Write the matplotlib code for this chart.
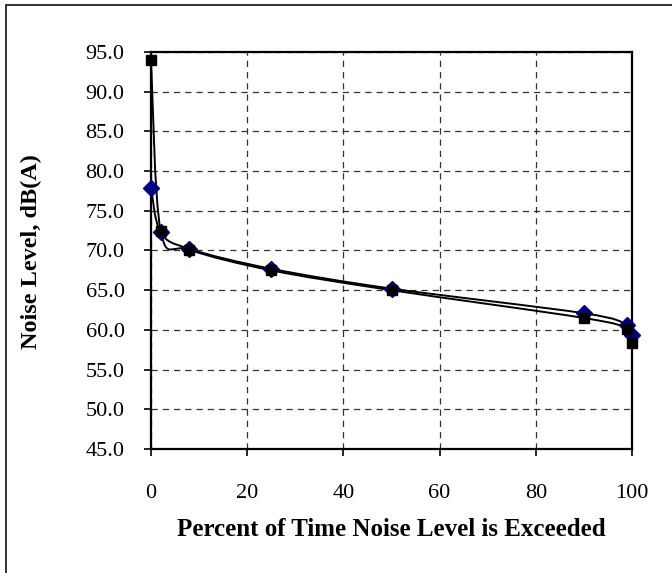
import matplotlib
matplotlib.use("Agg")
import matplotlib.pyplot as plt
import numpy as np
from matplotlib.path import Path
from matplotlib.patches import PathPatch, Rectangle

# Percent of time the level is exceeded
pct = [0, 2, 8, 25, 50, 90, 99, 100]
# Two measured series, dB(A)
level_sq = [94.0, 72.5, 70.1, 67.5, 65.0, 61.5, 60.1, 58.3]
level_dm = [77.9, 72.3, 70.2, 67.7, 65.2, 62.1, 60.6, 59.4]

x_ticks = [0, 20, 40, 60, 80, 100]
y_ticks = np.arange(45, 96, 5)


def smooth_path(xs, ys):
    # Excel style smoothed line: cubic bezier through every point
    pts = np.column_stack([xs, ys]).astype(float)
    n = len(pts)
    verts = [pts[0]]
    codes = [Path.MOVETO]
    for i in range(n - 1):
        p0 = pts[i - 1] if i > 0 else pts[i]
        p1 = pts[i]
        p2 = pts[i + 1]
        p3 = pts[i + 2] if i + 2 < n else pts[i + 1]
        c1 = p1 + (p2 - p0) / 6.0
        c2 = p2 - (p3 - p1) / 6.0
        verts += [c1, c2, p2]
        codes += [Path.CURVE4] * 3
    return Path(verts, codes)


plt.rcParams["font.family"] = ["Liberation Serif", "DejaVu Serif"]

fig = plt.figure(figsize=(6.72, 5.73), dpi=100)
ax = fig.add_axes([151 / 672, 1 - 449 / 573, (632 - 151) / 672, (449 - 52) / 573])

# outer chart border (cut off at right and bottom like the source)
fig.patches.append(Rectangle((6 / 672, -0.05), 1.2, 1 - 5 / 573 + 0.05,
                             transform=fig.transFigure, fill=False,
                             edgecolor="#222222", linewidth=1.3))

for xs, ys in [(pct, level_sq), (pct, level_dm)]:
    ax.add_patch(PathPatch(smooth_path(xs, ys), facecolor="none",
                           edgecolor="black", linewidth=1.4, zorder=3,
                           clip_on=False))

ax.plot(pct, level_dm, linestyle="none", marker="D", markersize=8,
        color="#000080", zorder=4, clip_on=False)
ax.plot(pct, level_sq, linestyle="none", marker="s", markersize=6.5,
        color="black", zorder=5, clip_on=False)

ax.set_xlim(0, 100)
ax.set_ylim(45, 95)
ax.set_xticks(x_ticks)
ax.set_yticks(y_ticks)
ax.set_yticklabels([f"{v:.1f}" for v in y_ticks])
ax.tick_params(axis="both", direction="out", length=5, width=1.2,
               labelsize=16, colors="black")
ax.tick_params(axis="x", pad=20)
ax.tick_params(axis="y", pad=14)

ax.grid(True, color="#333333", linestyle=(0, (5, 4)), linewidth=0.9)
ax.set_axisbelow(True)
for s in ax.spines.values():
    s.set_linewidth(1.6)
    s.set_color("black")

fig.text(391 / 672, 1 - 529 / 573, "Percent of Time Noise Level is Exceeded",
         ha="center", va="center", fontsize=18, fontweight="bold")
fig.text(31 / 672, 1 - 252 / 573, "Noise Level, dB(A)", rotation=90,
         ha="center", va="center", fontsize=17.5, fontweight="bold")

fig.savefig("out.png", dpi=100)
